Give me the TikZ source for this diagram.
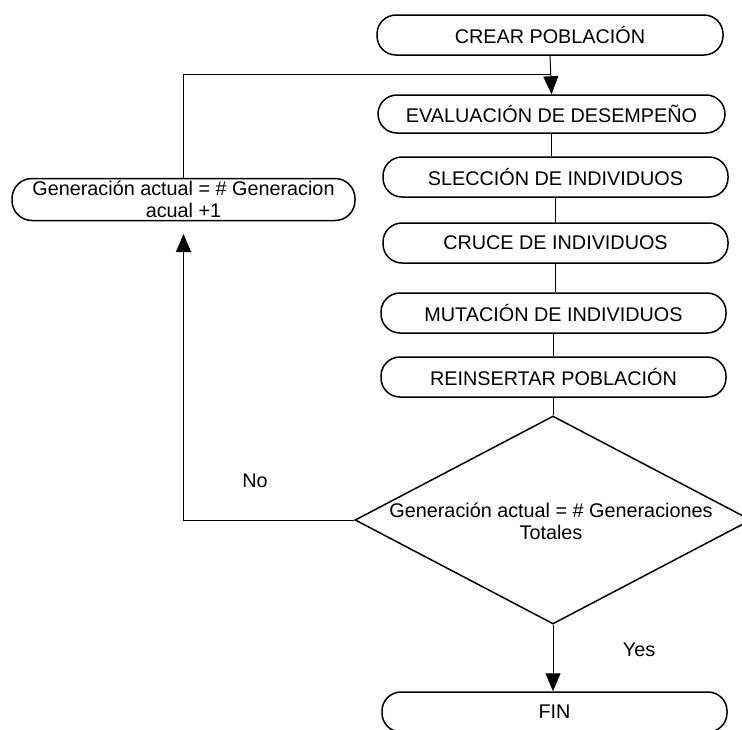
\documentclass[tikz,border=0pt]{standalone}
\usepackage{fontspec}
\setmainfont{Liberation Sans}
\usetikzlibrary{arrows.meta,shapes.geometric}
\tikzset{
  txt/.style={font=\fontsize{19.8}{22}\selectfont, inner sep=0pt, align=center},
  term/.style={txt, draw, line width=1.5pt, rectangle, rounded corners=19pt, minimum height=40pt},
  decision/.style={draw, line width=1.5pt, diamond, inner sep=0pt},
  conn/.style={line width=1pt},
  arr/.style={conn, -{Triangle[length=18pt,width=15pt]}},
}
\begin{document}
\begin{tikzpicture}[x=1pt,y=-1pt]
\useasboundingbox (0,0) rectangle (742,729);
\node[term, minimum width=346pt] (crear) at (550,35) {CREAR POBLACIÓN};
\node[term, minimum width=347pt, minimum height=38pt] (eval) at (551.5,114) {EVALUACIÓN DE DESEMPEÑO};
\node[term, minimum width=345pt] (slec) at (555.5,177) {SLECCIÓN DE INDIVIDUOS};
\node[term, minimum width=345pt] (cruce) at (555.5,243) {CRUCE DE INDIVIDUOS};
\node[term, minimum width=345pt] (mut) at (553.5,313) {MUTACIÓN DE INDIVIDUOS};
\node[term, minimum width=345pt] (rein) at (553.5,377) {REINSERTAR POBLACIÓN};
\node[decision, minimum width=396pt, minimum height=208pt] (dec) at (553,520) {};
\node[txt, font=\fontsize{19.8}{22}\selectfont] (dectxt) at (551,521) {Generación actual = \# Generaciones\\Totales};
\node[term, minimum width=345pt] (fin) at (554.5,712) {FIN};
\node[term, minimum width=343pt, minimum height=42pt, rounded corners=20pt] (left) at (183.5,199.5) {Generación actual = \# Generacion\\acual +1};
\node[txt] (no) at (255,481) {No};
\node[txt] (yes) at (639,650) {Yes};
\coordinate (j) at (550,74);
\coordinate (tip) at (183.5,234);
\draw[arr] (crear.south) -- (eval.north);
\draw[conn] (left.north) |- (j);
\draw[conn] (eval.south) -- (eval.south |- slec.north);
\draw[conn] (slec.south) -- (slec.south |- cruce.north);
\draw[conn] (cruce.south) -- (cruce.south |- mut.north);
\draw[conn] (mut.south) -- (mut.south |- rein.north);
\draw[conn] (rein.south) -- (rein.south |- dec.north);
\draw[arr] (dec.south) -- (dec.south |- fin.north);
\draw[arr] (dec.west) -| (tip);
\end{tikzpicture}
\end{document}
